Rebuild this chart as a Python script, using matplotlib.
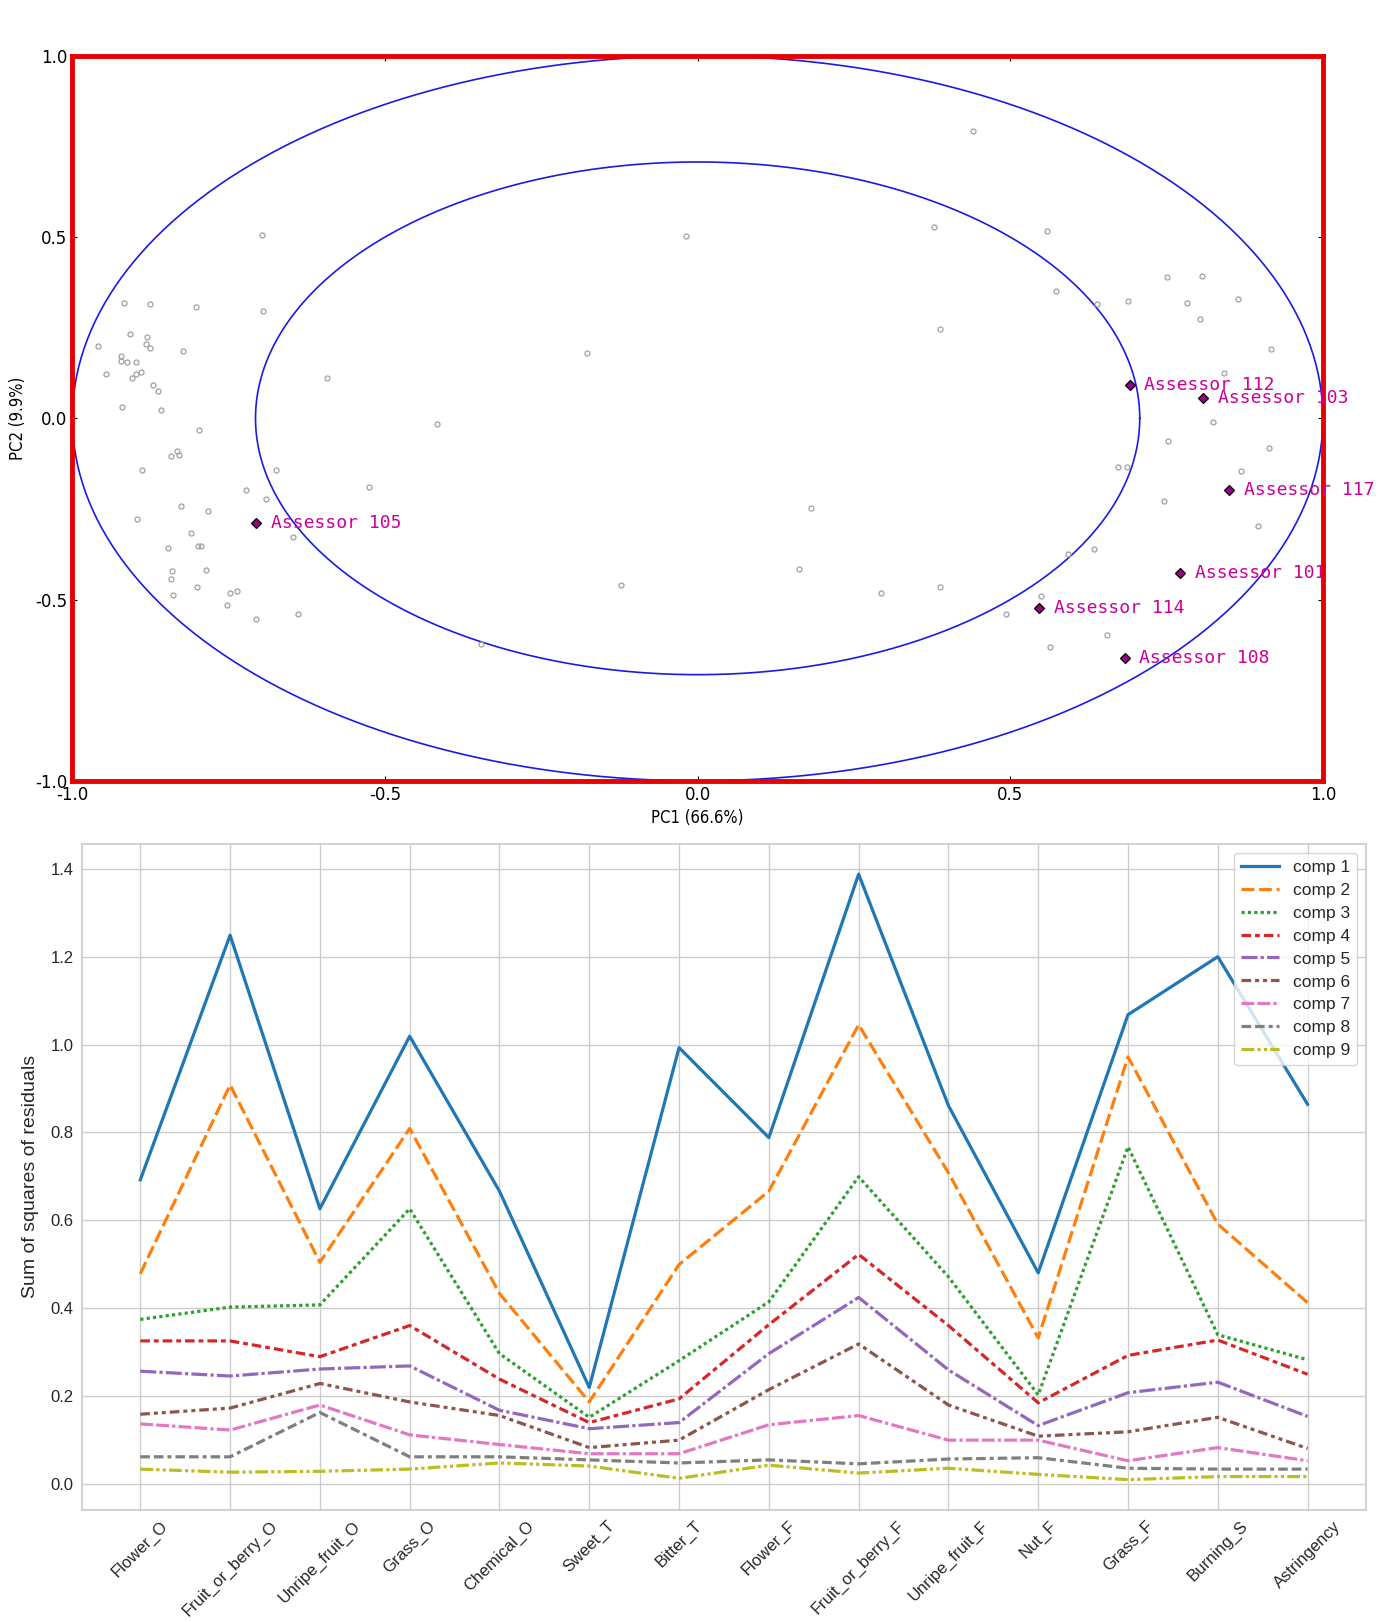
import matplotlib
matplotlib.use("Agg")
import matplotlib.pyplot as plt
import numpy as np

plt.rcParams["axes.unicode_minus"] = False

# ---------------- top chart data (correlation loadings) ----------------
var_x = [-0.917, -0.876, -0.803, -0.908, -0.880, -0.959, -0.883, -0.876, -0.823, -0.923,
         -0.923, -0.913, -0.898, -0.947, -0.905, -0.898, -0.890, -0.871, -0.863, -0.921,
         -0.859, -0.797, -0.832, -0.830, -0.843, -0.889, -0.827, -0.783, -0.896, -0.810,
         -0.847, -0.799, -0.794, -0.840, -0.786, -0.842, -0.800, -0.839, -0.748, -0.752,
         -0.737, -0.707, -0.639, -0.695, -0.697, -0.593, -0.675, -0.722, -0.691, -0.647,
         -0.525, -0.417, -0.347, -0.177, -0.123, -0.018, 0.181, 0.162, 0.294, 0.387,
         0.440, 0.378, 0.387, 0.558, 0.573, 0.639, 0.688, 0.750, 0.807, 0.783,
         0.865, 0.803, 0.917, 0.842, 0.825, 0.752, 0.914, 0.672, 0.686, 0.869,
         0.746, 0.897, 0.592, 0.634, 0.549, 0.493, 0.654, 0.564]
var_y = [0.318, 0.315, 0.308, 0.232, 0.224, 0.200, 0.205, 0.193, 0.185, 0.172,
         0.158, 0.154, 0.156, 0.122, 0.111, 0.122, 0.129, 0.093, 0.074, 0.031,
         0.023, -0.032, -0.089, -0.101, -0.105, -0.143, -0.241, -0.255, -0.277, -0.316,
         -0.358, -0.351, -0.351, -0.420, -0.419, -0.443, -0.466, -0.488, -0.482, -0.515,
         -0.475, -0.553, -0.540, 0.296, 0.505, 0.110, -0.143, -0.199, -0.222, -0.328,
         -0.189, -0.017, -0.622, 0.180, -0.460, 0.502, -0.248, -0.415, -0.482, -0.466,
         0.792, 0.529, 0.245, 0.518, 0.352, 0.315, 0.324, 0.389, 0.392, 0.319,
         0.329, 0.274, 0.191, 0.125, -0.010, -0.063, -0.081, -0.134, -0.133, -0.146,
         -0.229, -0.298, -0.373, -0.361, -0.490, -0.540, -0.597, -0.630]

assessors = ["Assessor 105", "Assessor 112", "Assessor 103", "Assessor 117",
             "Assessor 101", "Assessor 114", "Assessor 108"]
ass_x = [-0.706, 0.691, 0.809, 0.850, 0.772, 0.546, 0.683]
ass_y = [-0.290, 0.092, 0.055, -0.198, -0.426, -0.523, -0.660]

pc1_label = "PC1 (66.6%)"
pc2_label = "PC2 (9.9%)"
top_ticks = [-1.0, -0.5, 0.0, 0.5, 1.0]

# ---------------- bottom chart data (residuals) ----------------
attributes = ["Flower_O", "Fruit_or_berry_O", "Unripe_fruit_O", "Grass_O", "Chemical_O",
              "Sweet_T", "Bitter_T", "Flower_F", "Fruit_or_berry_F", "Unripe_fruit_F",
              "Nut_F", "Grass_F", "Burning_S", "Astringency"]
comp1 = [0.692, 1.249, 0.626, 1.019, 0.666, 0.219, 0.993, 0.788, 1.388, 0.861, 0.480, 1.068, 1.200, 0.864]
comp2 = [0.478, 0.908, 0.504, 0.809, 0.433, 0.186, 0.499, 0.666, 1.045, 0.708, 0.332, 0.972, 0.591, 0.412]
comp3 = [0.374, 0.402, 0.407, 0.626, 0.296, 0.151, 0.280, 0.414, 0.699, 0.471, 0.202, 0.767, 0.339, 0.282]
comp4 = [0.325, 0.325, 0.289, 0.360, 0.238, 0.139, 0.193, 0.362, 0.522, 0.360, 0.184, 0.292, 0.327, 0.249]
comp5 = [0.256, 0.245, 0.261, 0.268, 0.167, 0.125, 0.139, 0.296, 0.424, 0.259, 0.132, 0.207, 0.231, 0.153]
comp6 = [0.158, 0.172, 0.228, 0.186, 0.155, 0.082, 0.099, 0.214, 0.318, 0.179, 0.108, 0.118, 0.151, 0.080]
comp7 = [0.136, 0.122, 0.179, 0.111, 0.089, 0.068, 0.068, 0.134, 0.155, 0.099, 0.099, 0.052, 0.082, 0.052]
comp8 = [0.061, 0.061, 0.162, 0.061, 0.061, 0.054, 0.047, 0.054, 0.045, 0.056, 0.059, 0.035, 0.033, 0.033]
comp9 = [0.033, 0.026, 0.028, 0.033, 0.047, 0.040, 0.012, 0.042, 0.024, 0.035, 0.021, 0.009, 0.016, 0.016]
comp_names = ["comp 1", "comp 2", "comp 3", "comp 4", "comp 5", "comp 6", "comp 7", "comp 8", "comp 9"]
comps = [comp1, comp2, comp3, comp4, comp5, comp6, comp7, comp8, comp9]

dash_specs = [None, (4, 1.5), (1, 1), (3, 1.25, 1.5, 1.25), (5, 1, 1, 1),
              (3, 1.25, 1.25, 1.25, 1.25, 1.25), (4, 1, 4, 1, 1, 1),
              (3, 1.25, 3, 1.25, 1.25, 1.25), (4, 1, 1, 1, 1, 1)]
colors = ["#1f77b4", "#ff7f0e", "#2ca02c", "#d62728", "#9467bd",
          "#8c564b", "#e377c2", "#7f7f7f", "#bcbd22"]

fig = plt.figure(figsize=(13.89, 16.22), dpi=100)

# ======================= top axes =======================
ax1 = fig.add_axes([0.0521, 0.5186, 0.9003, 0.4470])
t = np.linspace(0, 2 * np.pi, 500)
ax1.plot(np.cos(t), np.sin(t), color="#1a1ae6", lw=1.2)
r_in = np.sqrt(0.5)
ax1.plot(r_in * np.cos(t), r_in * np.sin(t), color="#1a1ae6", lw=1.2)
ax1.plot(var_x, var_y, "o", mfc="none", mec="#a0a0a0", ms=3.6, mew=0.9, ls="none")
ax1.plot(ass_x, ass_y, "D", mfc="#9a0082", mec="black", ms=5.2, mew=0.9, ls="none")
for name, x, y in zip(assessors, ass_x, ass_y):
    ax1.annotate(name, (x, y), xytext=(10.5, 0), textcoords="offset points",
                 va="center", ha="left", fontsize=13, color="#cc0099",
                 family="DejaVu Sans Mono")
ax1.set_xlim(-1, 1)
ax1.set_ylim(-1, 1)
ax1.set_xticks(top_ticks)
ax1.set_yticks(top_ticks)
ax1.tick_params(direction="in", top=True, right=True, labelsize=12, length=3.5)
for sp in ax1.spines.values():
    sp.set_color("#e60000")
    sp.set_linewidth(3.5)
lab_font = dict(family=["Liberation Sans Narrow", "DejaVu Sans"], fontsize=12,
                fontstretch="condensed")
ax1.set_xlabel(pc1_label, labelpad=4, **lab_font)
ax1.set_ylabel(pc2_label, labelpad=6, **lab_font)

# ======================= bottom axes =======================
ax2 = fig.add_axes([0.059, 0.0691, 0.9244, 0.4106])
xs = np.arange(len(attributes))
for name, vals, col, ds in zip(comp_names, comps, colors, dash_specs):
    if ds is None:
        ax2.plot(xs, vals, color=col, lw=2.3, label=name)
    else:
        ax2.plot(xs, vals, color=col, lw=2.3, dashes=ds, label=name)
ax2.set_xticks(xs)
ax2.set_xticklabels(attributes, rotation=45, family="Liberation Sans", fontsize=12, color="#262626")
ax2.tick_params(axis="both", length=0, labelsize=12, labelcolor="#262626", pad=6)
ax2.grid(True, color="#cccccc", lw=1)
ax2.set_axisbelow(True)
for sp in ax2.spines.values():
    sp.set_color("#cccccc")
    sp.set_linewidth(1.25)
ax2.set_ylabel("Sum of squares of residuals", family="Liberation Sans", fontsize=14,
               color="#262626", labelpad=8)
for lab in ax2.get_yticklabels():
    lab.set_family("Liberation Sans")
leg = ax2.legend(loc="upper right", prop={"family": "Liberation Sans", "size": 12.5},
                 frameon=True, fancybox=True, framealpha=0.8, edgecolor="0.8",
                 labelspacing=0.45, handlelength=2.2)
for txt in leg.get_texts():
    txt.set_color("#262626")

fig.savefig("out.png", dpi=100, facecolor="white")
